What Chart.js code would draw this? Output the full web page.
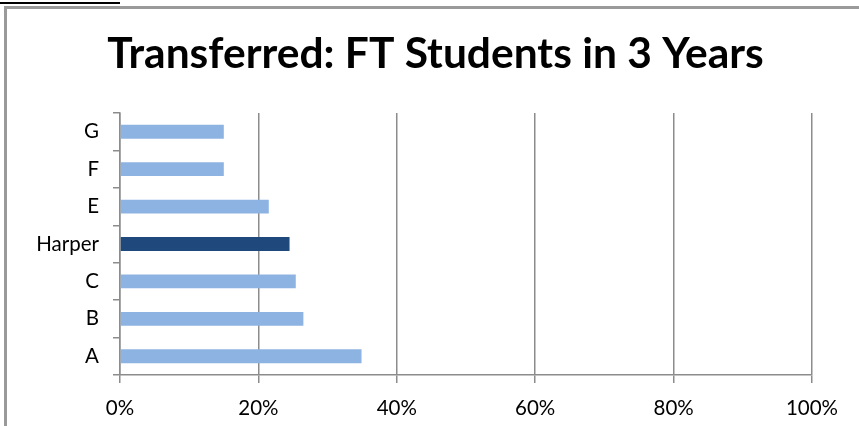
<!DOCTYPE html>
<html>
<head>
<meta charset="utf-8">
<script src="https://cdn.jsdelivr.net/npm/chart.js@4"></script>
<style>
  html, body { margin: 0; padding: 0; background: #fff; overflow: hidden; }
  #frame { position: absolute; left: 4px; top: 6px; width: 900px; height: 500px;
           border-left: 3px solid #9a9a9a; border-top: 3px solid #9a9a9a; }
  #srcline { position: absolute; left: 0; top: 2px; width: 120px; border-top: 2px solid #000; }
  #wrap { position: absolute; left: 0; top: 0; width: 859px; height: 426px; }
</style>
</head>
<body>
<div id="srcline"></div>
<div id="frame"></div>
<div id="wrap"><canvas id="myChart"></canvas></div>
<script>
// categories, shown top to bottom
var schools = ["G", "F", "E", "Harper", "C", "B", "A"];
// transfer rate, percent
var transferred = [15.0, 15.0, 21.5, 24.5, 25.4, 26.5, 34.9];
var xTicks = [0, 20, 40, 60, 80, 100];

var titleText = "Transferred: FT Students in 3 Years";
var light = "#8db3e2";
var dark = "#1f497d";
var gridGray = "#8c8c8c";

// the original title sits a bit right of the canvas centre, so draw it ourselves
var titlePlugin = {
	id: "offsetTitle",
	afterDraw: function(chart){
		var c = chart.ctx;
		c.save();
		c.font = "bold 42.5px Lato";
		c.fillStyle = "#000";
		c.textAlign = "center";
		c.textBaseline = "middle";
		c.fillText(titleText, chart.width / 2 + 6, 54);
		c.restore();
	}
};

function createChart(){
	var ctx = document.getElementById("myChart");

	var colors = schools.map(function(s){ return s == "Harper" ? dark : light; });

	new Chart(ctx, {
		type: "bar",
		data: {
			labels: schools,
			datasets: [{
				data: transferred,
				backgroundColor: colors,
				borderWidth: 0,
				categoryPercentage: 1,
				barPercentage: 0.37
			}]
		},
		plugins: [titlePlugin],
		options: {
			indexAxis: "y",
			responsive: true,
			maintainAspectRatio: false,
			animation: false,
			layout: { padding: { left: 0, right: 47, top: 113, bottom: 0 } },
			plugins: {
				legend: { display: false },
				tooltip: { enabled: false },
				title: { display: false }
			},
			scales: {
				x: {
					min: 0,
					max: 100,
					afterBuildTicks: function(axis){
						axis.ticks = xTicks.map(function(v){ return { value: v }; });
					},
					afterFit: function(axis){ axis.height = 51; },
					grid: { color: gridGray, lineWidth: 1.5, tickLength: 8 },
					border: { color: gridGray, width: 1.5 },
					ticks: {
						color: "#000",
						padding: 13,
						maxRotation: 0,
						font: { family: "Lato", size: 20.5 },
						callback: function(v){ return v + "%"; }
					}
				},
				y: {
					afterFit: function(axis){ axis.width = 120; },
					grid: { drawOnChartArea: false, color: gridGray, lineWidth: 1.5, tickLength: 7 },
					border: { color: gridGray, width: 1.5 },
					ticks: {
						color: "#000",
						padding: 14,
						font: { family: "Lato", size: 20.5 }
					}
				}
			}
		}
	});
}

createChart();
</script>
</body>
</html>
